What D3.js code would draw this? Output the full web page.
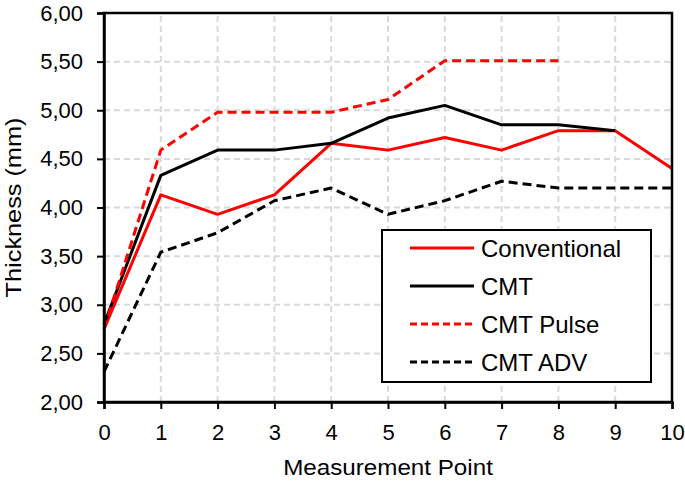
<!DOCTYPE html>
<html>
<head>
<meta charset="utf-8">
<script src="https://cdn.jsdelivr.net/npm/d3@7"></script>
<style>
  body { margin: 0; background: #fff; }
  text { font-family: Arial, "Liberation Sans", sans-serif; fill: #000; }
</style>
</head>
<body>
<svg id="chart" width="685" height="481"></svg>
<script>
var points = [0, 1, 2, 3, 4, 5, 6, 7, 8, 9, 10];
var yTicks = [2, 2.5, 3, 3.5, 4, 4.5, 5, 5.5, 6];

var conventional = [2.75, 4.13, 3.93, 4.13, 4.66, 4.59, 4.72, 4.59, 4.79, 4.79, 4.40];
var cmt = [2.80, 4.33, 4.59, 4.59, 4.66, 4.92, 5.05, 4.85, 4.85, 4.79];
var cmtPulse = [2.75, 4.59, 4.98, 4.98, 4.98, 5.11, 5.51, 5.51, 5.51];
var cmtAdv = [2.31, 3.54, 3.74, 4.07, 4.20, 3.93, 4.07, 4.27, 4.20, 4.20, 4.20];

var seriesNames = ["Conventional", "CMT", "CMT Pulse", "CMT ADV"];
var seriesValues = [conventional, cmt, cmtPulse, cmtAdv];
var seriesColors = ["#ff0000", "#000000", "#ff0000", "#000000"];
var seriesDashed = [false, false, true, true];

var margin = { left: 104, right: 13, top: 13, bottom: 79 };
var width = 685, height = 481;

var svg = d3.select("#chart");

var x = d3.scaleLinear().domain([0, 10]).range([margin.left, width - margin.right]);
var y = d3.scaleLinear().domain([2, 6]).range([height - margin.bottom, margin.top]);

var fmt = function (d) { return d3.format(".2f")(d).replace(".", ","); };

// grid
svg.append("g").selectAll("line.h")
  .data(yTicks.slice(1, -1))
  .enter().append("line")
  .attr("x1", x(0)).attr("x2", x(10))
  .attr("y1", function (d) { return y(d); })
  .attr("y2", function (d) { return y(d); })
  .attr("stroke", "#d9d9d9").attr("stroke-width", 2)
  .attr("stroke-dasharray", "6,4");

svg.append("g").selectAll("line.v")
  .data(points.slice(1, -1))
  .enter().append("line")
  .attr("y1", y(2)).attr("y2", y(6))
  .attr("x1", function (d) { return x(d); })
  .attr("x2", function (d) { return x(d); })
  .attr("stroke", "#d9d9d9").attr("stroke-width", 2)
  .attr("stroke-dasharray", "6,4");

// lines
var line = d3.line()
  .x(function (d, i) { return x(points[i]); })
  .y(function (d) { return y(d); });

seriesValues.forEach(function (vals, k) {
  svg.append("path")
    .datum(vals)
    .attr("d", line)
    .attr("fill", "none")
    .attr("stroke", seriesColors[k])
    .attr("stroke-width", 3)
    .attr("stroke-linejoin", "round")
    .attr("stroke-dasharray", seriesDashed[k] ? "9,5" : null);
});

// frame
svg.append("rect")
  .attr("x", x(0)).attr("y", y(6))
  .attr("width", x(10) - x(0)).attr("height", y(2) - y(6))
  .attr("fill", "none").attr("stroke", "#000").attr("stroke-width", 2.5);

// axes
var xAxis = svg.append("g")
  .attr("transform", "translate(0," + y(2) + ")")
  .call(d3.axisBottom(x).tickValues(points).tickSize(7).tickPadding(12).tickFormat(d3.format("d")));
var yAxis = svg.append("g")
  .attr("transform", "translate(" + x(0) + ",0)")
  .call(d3.axisLeft(y).tickValues(yTicks).tickSize(7).tickPadding(14).tickFormat(fmt));

[xAxis, yAxis].forEach(function (g) {
  g.select(".domain").attr("stroke-width", 2.5);
  g.selectAll(".tick line").attr("stroke-width", 2);
  g.selectAll(".tick text")
    .style("font-size", "22px")
    .attr("fill", "#000");
});
xAxis.selectAll(".tick text").attr("dy", "0.88em");

// axis titles
svg.append("text")
  .attr("transform", "translate(" + ((x(0) + x(10)) / 2) + ",475) scale(1.1,1)")
  .attr("text-anchor", "middle")
  .style("font-size", "22px")
  .text("Measurement Point");

svg.append("text")
  .attr("transform", "translate(21," + ((y(2) + y(6)) / 2) + ") rotate(-90) scale(1.15,1)")
  .attr("text-anchor", "middle")
  .style("font-size", "22px")
  .text("Thickness (mm)");

// legend
var legend = svg.append("g").attr("transform", "translate(382,230)");
legend.append("rect")
  .attr("width", 269).attr("height", 152)
  .attr("fill", "#fff").attr("stroke", "#000").attr("stroke-width", 2);

var rows = legend.selectAll("g.row")
  .data(seriesNames)
  .enter().append("g")
  .attr("transform", function (d, i) { return "translate(0," + (18 + i * 38) + ")"; });

rows.append("line")
  .attr("x1", 28).attr("x2", 92)
  .attr("stroke", function (d, i) { return seriesColors[i]; })
  .attr("stroke-width", 3)
  .attr("stroke-dasharray", function (d, i) { return seriesDashed[i] ? "7,4" : null; });

rows.append("text")
  .attr("x", 99).attr("y", 8.5)
  .style("font-size", "24px")
  .text(function (d) { return d; });
</script>
</body>
</html>
